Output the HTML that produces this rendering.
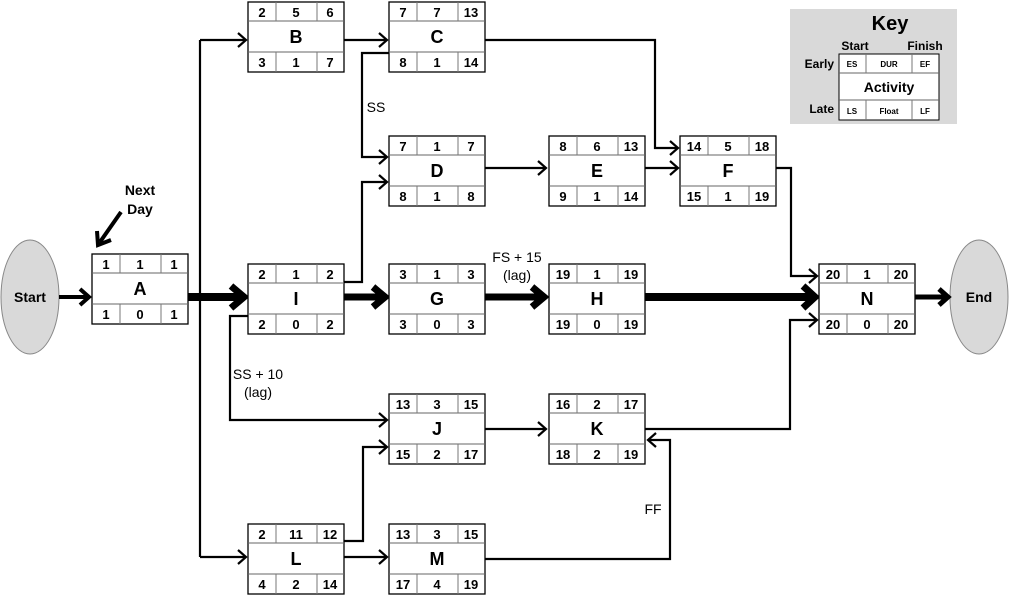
<!DOCTYPE html>
<html><head><meta charset="utf-8"><style>
html,body{margin:0;padding:0;background:#fff;}
svg{display:block;font-family:"Liberation Sans",Arial,sans-serif;}
.n{font-size:13px;font-weight:bold;text-anchor:middle;}
.L{font-size:18px;font-weight:bold;text-anchor:middle;}
.t{font-size:14px;text-anchor:middle;}
</style></head><body>
<svg width="1009" height="598" viewBox="0 0 1009 598" xmlns="http://www.w3.org/2000/svg">
<defs>
<g id="box">
<rect x="0" y="0" width="96" height="70" fill="#fff" stroke="#000" stroke-width="1.3"/>
<line x1="0" y1="19" x2="96" y2="19" stroke="#666" stroke-width="1"/>
<line x1="0" y1="50" x2="96" y2="50" stroke="#666" stroke-width="1"/>
<line x1="28" y1="0" x2="28" y2="19" stroke="#777"/>
<line x1="69" y1="0" x2="69" y2="19" stroke="#777"/>
<line x1="28" y1="50" x2="28" y2="70" stroke="#777"/>
<line x1="69" y1="50" x2="69" y2="70" stroke="#777"/>
</g>
</defs>

<!-- Key -->
<rect x="790" y="9" width="167" height="115" fill="#d9d9d9"/>
<text x="890" y="30" style="font-size:20px;font-weight:bold;text-anchor:middle">Key</text>
<text x="855" y="50" style="font-size:12px;font-weight:bold;text-anchor:middle">Start</text>
<text x="925" y="50" style="font-size:12px;font-weight:bold;text-anchor:middle">Finish</text>
<rect x="839" y="54" width="100" height="66" fill="#fff" stroke="#000"/>
<line x1="839" y1="73" x2="939" y2="73" stroke="#666"/>
<line x1="839" y1="100" x2="939" y2="100" stroke="#666"/>
<line x1="866" y1="54" x2="866" y2="73" stroke="#777"/><line x1="912" y1="54" x2="912" y2="73" stroke="#777"/>
<line x1="866" y1="100" x2="866" y2="120" stroke="#777"/><line x1="912" y1="100" x2="912" y2="120" stroke="#777"/>
<text x="852" y="67" style="font-size:8px;font-weight:bold;text-anchor:middle">ES</text>
<text x="889" y="67" style="font-size:8px;font-weight:bold;text-anchor:middle">DUR</text>
<text x="925" y="67" style="font-size:8px;font-weight:bold;text-anchor:middle">EF</text>
<text x="889" y="92" style="font-size:14px;font-weight:bold;text-anchor:middle">Activity</text>
<text x="852" y="114" style="font-size:8px;font-weight:bold;text-anchor:middle">LS</text>
<text x="889" y="114" style="font-size:8px;font-weight:bold;text-anchor:middle">Float</text>
<text x="925" y="114" style="font-size:8px;font-weight:bold;text-anchor:middle">LF</text>
<text x="834" y="68" style="font-size:12px;font-weight:bold;text-anchor:end">Early</text>
<text x="834" y="113" style="font-size:12px;font-weight:bold;text-anchor:end">Late</text>

<!-- Ellipses -->
<ellipse cx="30" cy="297" rx="29" ry="57" fill="#d9d9d9" stroke="#888"/>
<text x="30" y="302" style="font-size:14px;font-weight:bold;text-anchor:middle">Start</text>
<ellipse cx="979" cy="297" rx="29" ry="57" fill="#d9d9d9" stroke="#888"/>
<text x="979" y="302" style="font-size:14px;font-weight:bold;text-anchor:middle">End</text>

<!-- connectors thin -->
<g fill="none" stroke="#000" stroke-width="2.2">
<path d="M200,40 V557"/>
<path d="M200,40 H246"/><path d="M238,33 L246,40 L238,47"/>
<path d="M200,557 H246"/><path d="M238,550 L246,557 L238,564"/>
<path d="M344,40 H387"/><path d="M379,33 L387,40 L379,47"/>
<path d="M485,40 H655 V148 H678"/><path d="M670,141 L678,148 L670,155"/>
<path d="M389,53 H362 V157 H387"/><path d="M379,150 L387,157 L379,164"/>
<path d="M344,282 H362 V182 H387"/><path d="M379,175 L387,182 L379,189"/>
<path d="M485,168 H546"/><path d="M538,161 L546,168 L538,175"/>
<path d="M645,168 H678"/><path d="M670,161 L678,168 L670,175"/>
<path d="M776,168 H791 V276 H817"/><path d="M809,269 L817,276 L809,283"/>
<path d="M248,316 H230 V420 H387"/><path d="M379,413 L387,420 L379,427"/>
<path d="M485,429 H546"/><path d="M538,422 L546,429 L538,436"/>
<path d="M645,429 H790 V320 H817"/><path d="M809,313 L817,320 L809,327"/>
<path d="M344,541 H363 V447 H387"/><path d="M379,440 L387,447 L379,454"/>
<path d="M344,557 H387"/><path d="M379,550 L387,557 L379,564"/>
<path d="M485,559 H670 V440 H648"/><path d="M656,433 L648,440 L656,447"/>
</g>
<!-- thick -->
<g fill="none" stroke="#000" stroke-linecap="butt">
<path d="M59,297 H88" stroke-width="4"/><path d="M80,289 L89,297 L80,305" stroke-width="4"/>
<path d="M188,297 H244" stroke-width="8"/><path d="M231,286 L244,297 L231,308" stroke-width="7"/>
<path d="M344,297 H385" stroke-width="7"/><path d="M373,287 L385,297 L373,307" stroke-width="7"/>
<path d="M485,297 H544" stroke-width="7"/><path d="M532,287 L544,297 L532,307" stroke-width="7"/>
<path d="M645,297 H815" stroke-width="8"/><path d="M803,286 L815,297 L803,308" stroke-width="7"/>
<path d="M915,297 H948" stroke-width="5"/><path d="M939,289 L948,297 L939,305" stroke-width="5"/>
<path d="M121,212 L100,242" stroke-width="4"/><path d="M97,231 L98,245 L111,240" stroke-width="4"/>
</g>

<text x="140" y="195" style="font-size:14px;font-weight:bold;text-anchor:middle">Next</text>
<text x="140" y="214" style="font-size:14px;font-weight:bold;text-anchor:middle">Day</text>
<text x="376" y="112" class="t">SS</text>
<text x="517" y="262" class="t">FS + 15</text>
<text x="517" y="280" class="t">(lag)</text>
<text x="258" y="379" class="t">SS + 10</text>
<text x="258" y="397" class="t">(lag)</text>
<text x="653" y="514" class="t">FF</text>

<!-- Nodes -->
<g transform="translate(92,254)"><use href="#box"/><text x="14" y="15" class="n">1</text><text x="48" y="15" class="n">1</text><text x="82" y="15" class="n">1</text><text x="48" y="41" class="L">A</text><text x="14" y="65" class="n">1</text><text x="48" y="65" class="n">0</text><text x="82" y="65" class="n">1</text></g>
<g transform="translate(248,2)"><use href="#box"/><text x="14" y="15" class="n">2</text><text x="48" y="15" class="n">5</text><text x="82" y="15" class="n">6</text><text x="48" y="41" class="L">B</text><text x="14" y="65" class="n">3</text><text x="48" y="65" class="n">1</text><text x="82" y="65" class="n">7</text></g>
<g transform="translate(389,2)"><use href="#box"/><text x="14" y="15" class="n">7</text><text x="48" y="15" class="n">7</text><text x="82" y="15" class="n">13</text><text x="48" y="41" class="L">C</text><text x="14" y="65" class="n">8</text><text x="48" y="65" class="n">1</text><text x="82" y="65" class="n">14</text></g>
<g transform="translate(389,136)"><use href="#box"/><text x="14" y="15" class="n">7</text><text x="48" y="15" class="n">1</text><text x="82" y="15" class="n">7</text><text x="48" y="41" class="L">D</text><text x="14" y="65" class="n">8</text><text x="48" y="65" class="n">1</text><text x="82" y="65" class="n">8</text></g>
<g transform="translate(549,136)"><use href="#box"/><text x="14" y="15" class="n">8</text><text x="48" y="15" class="n">6</text><text x="82" y="15" class="n">13</text><text x="48" y="41" class="L">E</text><text x="14" y="65" class="n">9</text><text x="48" y="65" class="n">1</text><text x="82" y="65" class="n">14</text></g>
<g transform="translate(680,136)"><use href="#box"/><text x="14" y="15" class="n">14</text><text x="48" y="15" class="n">5</text><text x="82" y="15" class="n">18</text><text x="48" y="41" class="L">F</text><text x="14" y="65" class="n">15</text><text x="48" y="65" class="n">1</text><text x="82" y="65" class="n">19</text></g>
<g transform="translate(248,264)"><use href="#box"/><text x="14" y="15" class="n">2</text><text x="48" y="15" class="n">1</text><text x="82" y="15" class="n">2</text><text x="48" y="41" class="L">I</text><text x="14" y="65" class="n">2</text><text x="48" y="65" class="n">0</text><text x="82" y="65" class="n">2</text></g>
<g transform="translate(389,264)"><use href="#box"/><text x="14" y="15" class="n">3</text><text x="48" y="15" class="n">1</text><text x="82" y="15" class="n">3</text><text x="48" y="41" class="L">G</text><text x="14" y="65" class="n">3</text><text x="48" y="65" class="n">0</text><text x="82" y="65" class="n">3</text></g>
<g transform="translate(549,264)"><use href="#box"/><text x="14" y="15" class="n">19</text><text x="48" y="15" class="n">1</text><text x="82" y="15" class="n">19</text><text x="48" y="41" class="L">H</text><text x="14" y="65" class="n">19</text><text x="48" y="65" class="n">0</text><text x="82" y="65" class="n">19</text></g>
<g transform="translate(819,264)"><use href="#box"/><text x="14" y="15" class="n">20</text><text x="48" y="15" class="n">1</text><text x="82" y="15" class="n">20</text><text x="48" y="41" class="L">N</text><text x="14" y="65" class="n">20</text><text x="48" y="65" class="n">0</text><text x="82" y="65" class="n">20</text></g>
<g transform="translate(389,394)"><use href="#box"/><text x="14" y="15" class="n">13</text><text x="48" y="15" class="n">3</text><text x="82" y="15" class="n">15</text><text x="48" y="41" class="L">J</text><text x="14" y="65" class="n">15</text><text x="48" y="65" class="n">2</text><text x="82" y="65" class="n">17</text></g>
<g transform="translate(549,394)"><use href="#box"/><text x="14" y="15" class="n">16</text><text x="48" y="15" class="n">2</text><text x="82" y="15" class="n">17</text><text x="48" y="41" class="L">K</text><text x="14" y="65" class="n">18</text><text x="48" y="65" class="n">2</text><text x="82" y="65" class="n">19</text></g>
<g transform="translate(248,524)"><use href="#box"/><text x="14" y="15" class="n">2</text><text x="48" y="15" class="n">11</text><text x="82" y="15" class="n">12</text><text x="48" y="41" class="L">L</text><text x="14" y="65" class="n">4</text><text x="48" y="65" class="n">2</text><text x="82" y="65" class="n">14</text></g>
<g transform="translate(389,524)"><use href="#box"/><text x="14" y="15" class="n">13</text><text x="48" y="15" class="n">3</text><text x="82" y="15" class="n">15</text><text x="48" y="41" class="L">M</text><text x="14" y="65" class="n">17</text><text x="48" y="65" class="n">4</text><text x="82" y="65" class="n">19</text></g>
</svg>
</body></html>
